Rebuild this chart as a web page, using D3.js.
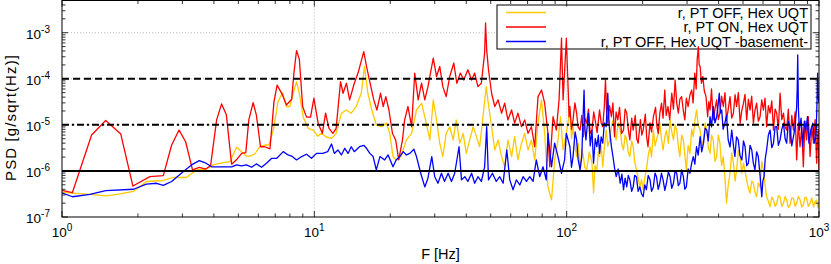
<!DOCTYPE html>
<html>
<head>
<meta charset="utf-8">
<script src="https://cdn.jsdelivr.net/npm/d3@7"></script>
<style>
body { margin: 0; background: #fff; }
svg { display: block; font-family: "Liberation Sans", Arial, sans-serif; }
</style>
</head>
<body>
<div id="vis"></div>
<script>
// PSD readings [F (Hz), PSD (g/sqrt(Hz))] for each run
var ptOffHex = [[1.0,3.45e-7],[1.10,3.3e-7],[1.29,3.1e-7],[1.50,2.87e-7],[1.70,3.17e-7],[1.92,3.6e-7],[2.16,5.9e-7],[2.52,6.2e-7],[2.76,7.2e-7],[3.11,7.2e-7],[3.41,1.05e-6],[3.74,1.1e-6],[3.98,1.35e-6],[4.35,1.52e-6],[4.63,1.6e-6],[4.92,3.25e-6],[5.15,2.62e-6],[5.38,2.1e-6],[5.55,2.1e-6],[5.81,2.33e-6],[6.08,3.35e-6],[6.36,3.65e-6],[6.6,3.65e-6],[6.88,7.7e-6],[7.18,3.2e-5],[7.48,5.0e-5],[7.75,2.5e-5],[8.0,2.5e-5],[8.25,4.85e-5],[8.5,8.65e-5],[8.72,4.85e-5],[9.04,1.47e-5],[9.45,8.4e-6],[9.9,7.7e-6],[10.3,5.7e-6],[10.67,6.55e-6],[11.15,5.45e-6],[11.7,5.1e-6],[12.2,6.55e-6],[12.8,1.79e-5],[13.4,2.1e-5],[14.0,1.79e-5],[14.65,2.5e-5],[15.35,4.85e-5],[15.8,1.85e-4],[16.3,4.85e-5],[16.9,2.1e-5],[17.6,9.9e-6],[18.5,9.1e-6],[19.3,1.09e-5],[19.9,6.55e-6],[20.5,2.05e-6],[21.1,1.73e-6],[22.1,2.05e-6],[23.15,4.7e-6],[24.3,6.55e-6],[25.4,2.1e-5],[26.6,2.95e-5],[27.4,1.5e-5],[28.7,4.7e-6],[29.6,3.48e-5],[30.5,1.28e-5],[31.4,4.0e-6],[32.3,2.05e-6],[33.3,6.55e-6],[34.4,9.1e-6],[35.5,4.7e-6],[36.5,1.28e-5],[37.7,4.0e-6],[38.9,6.55e-6],[40.0,2.4e-6],[41.3,4.7e-6],[42.6,9.1e-6],[43.9,5.55e-6],[45.2,3.35e-6],[46.6,1.5e-5],[48.0,6.75e-5],[48.7,3.48e-5],[50.4,9.1e-6],[51.9,2.85e-6],[53.5,4.7e-6],[55.2,2.05e-6],[56.8,1.23e-6],[58.5,4.7e-6],[60.5,2.05e-6],[62.2,5.55e-6],[64.1,1.73e-6],[66.2,4.0e-6],[68.2,6.55e-6],[70.3,2.85e-6],[72.5,4.7e-6],[74.7,1.73e-6],[77.0,1.09e-5],[79.5,3.48e-5],[81.8,6.55e-6],[84.3,4.5e-7],[87.1,2.35e-7],[89.6,1.73e-6],[92.4,4.7e-6],[94.5,1.5e-5],[96.8,2.85e-6],[99.7,6.55e-6],
  [103,2.1e-5],[104.5,5e-6],[106,9.1e-6],[108,3.5e-6],[109.5,2.05e-6],[111,4e-6],[113,1.05e-6],[114.8,3e-6],[116.5,2.05e-6],[118,1.2e-6],[120,1.05e-6],[123,2.6e-6],[126,1.47e-6],[127.8,3.35e-7],[129.5,1.3e-6],[131.7,1.05e-6],[133.5,2.6e-6],[135,2.05e-6],[137,3.5e-6],[139,1.23e-6],[141,3.2e-6],[143.4,7.7e-6],[145.5,3.5e-6],[148,4.7e-6],[150.5,9e-6],[152.6,1.28e-5],[155,6e-6],[157.2,4.7e-6],[160,1.1e-5],[163,7.7e-6],[165.5,3.8e-6],[168,2.85e-6],[170.5,6e-6],[173,4.7e-6],[175.5,2.5e-6],[178,2.05e-6],[181,4.5e-6],[183.5,3.35e-6],[186,1.6e-6],[189,1.05e-6],[192,7e-7],[195,4.5e-7],[198,6.5e-7],[201,3.9e-7],[204,7e-7],[207,1.05e-6],[210.5,2.2e-6],[214,3.35e-6],[217,2e-6],[220.6,7.7e-6],[224,3.5e-6],[227,4.7e-6],[230.5,6.5e-6],[234,1.09e-5],[237.5,5e-6],[241,2.85e-6],[245,5.5e-6],[248.5,7.7e-6],[253,4e-6],[257,1.28e-5],[261,7e-6],[265,4.7e-6],[269,1.0e-5],[273,7.7e-6],[277,3.5e-6],[281,2.05e-6],[285.5,6e-6],[290,4.7e-6],[294,2.2e-6],[298,1.05e-6],[303,3.6e-6],[308,2.4e-6],[313,8e-6],[317.5,5.55e-6],[322,1.2e-5],[327,2.1e-5],[332,1.0e-5],[338,7.7e-6],[343,3.6e-6],[348.5,4.7e-6],[354,1.1e-5],[359,7.7e-6],[364,3.3e-6],[370,2.4e-6],[375,6e-6],[381,4.7e-6],[387,1.6e-6],[393,2.05e-6],[399,6e-6],[405,4.0e-6],[411,1.3e-6],[417.5,2.05e-6],[424,7e-7],[430,2.0e-7],[437,5e-7],[444,8.9e-7],[451,2.5e-6],[458,1.47e-6],[465,6e-7],[471.5,1.05e-6],[479,2.8e-6],[487,2.05e-6],[494,9e-7],[502,1.47e-6],[509,1.0e-6],[517,6.4e-7],[525,4.2e-7],[533,3.3e-7],[541,6e-7],[549.5,5.4e-7],[557,3.5e-7],[566,2.75e-7],[575,5.5e-7],[584,4.5e-7],[593,1.6e-6],[602,1.05e-6],[611,5e-7],[620,2.75e-7],[630,2.2e-7],[640,1.67e-7],[650,2.7e-7],[660,2.35e-7],[670,1.7e-7],[680,2.0e-7],[690,2.9e-7],[701,2.75e-7],[712,1.7e-7],[723,2.0e-7],[734,2.8e-7],[744.5,2.35e-7],[756,1.6e-7],[768,1.83e-7],[780,2.6e-7],[792,2.55e-7],[804,1.7e-7],[815.6,2.0e-7],[828,2.8e-7],[841,2.35e-7],[854,1.65e-7],[867,1.83e-7],[880,2.7e-7],[893,2.55e-7],[907,1.7e-7],[922,2.0e-7],[936,2.6e-7],[951,1.67e-7],[965,2.2e-7],[979,2.35e-7],[990,1.6e-7],[1000,2.0e-7]];

var ptOnHex = [[1.0,3.8e-7],[1.10,3.4e-7],[1.31,6.0e-6],[1.49,1.24e-5],[1.71,6.3e-6],[1.91,4.7e-7],[2.23,7.5e-7],[2.52,7.9e-7],[2.72,3.65e-6],[2.91,7.7e-6],[3.09,4.3e-6],[3.29,1.05e-6],[3.50,1.2e-6],[3.71,1.1e-6],[3.88,1.3e-6],[4.10,1.28e-5],[4.29,2.85e-5],[4.48,1.65e-5],[4.70,1.4e-6],[4.94,1.8e-6],[5.15,2.4e-6],[5.35,2.5e-6],[5.50,1.28e-5],[5.72,3.05e-5],[5.89,1.65e-5],[6.12,3.35e-6],[6.36,3.35e-6],[6.67,3.0e-6],[6.92,3.2e-5],[7.12,7.3e-5],[7.48,4.46e-5],[7.75,2.7e-5],[8.13,3.6e-5],[8.30,1.33e-4],[8.50,4.1e-4],[8.72,2.67e-4],[8.99,2.5e-5],[9.31,1.47e-5],[9.66,1.47e-5],[9.96,3.8e-5],[10.35,1.09e-5],[10.76,6.55e-6],[11.08,1.79e-5],[11.43,8.4e-6],[11.85,6.55e-6],[12.2,8.4e-6],[12.7,8.65e-5],[13.0,4.85e-5],[13.4,8.0e-5],[13.8,3.48e-5],[14.4,8.0e-5],[14.9,1.33e-4],[15.2,2.0e-4],[15.7,3.9e-4],[16.1,1.85e-4],[16.7,7.3e-5],[17.2,3.48e-5],[17.7,2.1e-5],[18.3,4.85e-5],[18.75,2.5e-5],[19.2,4.1e-5],[19.75,2.1e-5],[20.4,6.55e-6],[21.0,4.7e-6],[21.6,1.73e-6],[22.35,4.7e-6],[22.8,1.28e-5],[23.5,2.5e-5],[24.3,9.1e-6],[25.0,1.33e-4],[25.8,3.48e-5],[26.6,8.0e-5],[27.4,3.48e-5],[28.2,6.75e-5],[29.6,2.8e-4],[30.5,1.12e-4],[31.4,1.85e-4],[32.3,6.75e-5],[33.3,4.1e-5],[34.4,1.12e-4],[35.7,2.2e-4],[36.7,8.0e-5],[37.9,1.33e-4],[39.1,9.4e-5],[40.6,1.57e-4],[42.0,9.4e-5],[43.2,1.33e-4],[44.5,6.75e-5],[45.9,8.0e-5],[47.3,3.6e-4],[47.7,1.63e-3],[48.2,4.24e-4],[49.0,1.57e-4],[50.4,4.85e-5],[51.9,2.5e-5],[53.5,3.48e-5],[55.2,1.79e-5],[56.8,2.95e-5],[58.5,1.28e-5],[60.5,2.1e-5],[62.2,1.09e-5],[64.1,1.79e-5],[66.2,9.1e-6],[68.2,1.28e-5],[70.3,6.55e-6],[72.5,9.1e-6],[74.7,3.35e-6],[77.0,4.1e-5],[79.5,5.7e-5],[81.8,2.95e-5],[84.3,6.55e-6],[85.7,1.23e-6],[88.3,1.5e-5],[91.0,7.7e-6],[93.3,3.48e-5],[95.4,7.6e-4],[96.8,3.48e-5],[99.7,7.6e-4],
  [101.5,4.85e-5],[102.2,1.5e-5],[103,2.5e-5],[104.5,8e-6],[106,1.28e-5],[107.8,3.0e-5],[109.5,1.79e-5],[111,9e-6],[113,7.7e-6],[114.8,1.6e-5],[116.5,5.55e-6],[118,1.4e-5],[120,1.09e-5],[122,2.2e-5],[124,6.5e-6],[126,7.7e-6],[128,1.9e-5],[129.7,1.28e-5],[132,6.8e-6],[135,2.1e-5],[137,1.1e-5],[139,9.1e-6],[141,2.5e-5],[142.5,9.4e-5],[144,2.0e-5],[145.5,1.09e-5],[148,2.6e-5],[150.4,1.5e-5],[152.5,3.0e-5],[154.8,5.55e-6],[157,1.9e-5],[159.5,1.28e-5],[162,2.4e-5],[165,6.5e-6],[168,7.7e-6],[170.5,2.2e-5],[173,1.79e-5],[175.5,8e-6],[178,4.7e-6],[181,1.4e-5],[183.5,7.7e-6],[187,1.6e-5],[189.5,5e-6],[192,4.0e-6],[196,1.3e-5],[198.5,6e-6],[201,7.7e-6],[205,1.7e-5],[207.5,5.5e-6],[210,3.35e-6],[214,1.1e-5],[217,7e-6],[220.6,1.5e-5],[225,2.4e-5],[228,9e-6],[230.7,6.55e-6],[234,1.8e-5],[237.7,2.95e-5],[241,1.4e-5],[244.8,5.7e-5],[248,1.6e-5],[252,2.5e-5],[256,1.3e-5],[261,4.85e-5],[265,2.2e-5],[269,9.4e-5],[273,3.0e-5],[277,1.79e-5],[281,3.6e-5],[285.5,4.1e-5],[290,2.0e-5],[294,1.28e-5],[298,3.8e-5],[303,2.5e-5],[308,4.5e-5],[313,5.7e-5],[317,3.0e-5],[322,1.33e-4],[326,6e-5],[329,2.58e-4],[332.6,5.0e-4],[335,2.0e-4],[338,1.85e-4],[342,8e-5],[346.5,1.12e-4],[351,5.5e-5],[356.6,4.1e-5],[362,1.5e-5],[366,3.2e-5],[370,2.1e-5],[375,6e-5],[381,1.28e-5],[387,2.2e-5],[393,3.48e-5],[399,1.3e-5],[405,1.79e-5],[411,4.2e-5],[417.5,2.5e-5],[424,5e-5],[430,1.28e-5],[437,2.2e-5],[444,4.1e-5],[451,1.4e-5],[458,1.79e-5],[465,4.5e-5],[471.5,2.5e-5],[479,5e-5],[487,1.09e-5],[494,2.0e-5],[502,2.95e-5],[509,4.6e-5],[517,1.28e-5],[525,3.6e-5],[533,2.1e-5],[541,4.2e-5],[549.5,1.09e-5],[557,2.0e-5],[566,2.95e-5],[575,1.2e-5],[584,1.5e-5],[593,3.5e-5],[602,2.1e-5],[611,3.8e-5],[620,9.1e-6],[630,2.6e-5],[640,1.79e-5],[650,3.3e-5],[660,7.7e-6],[670,2.2e-5],[680,1.79e-5],[690,8e-6],[701,4.85e-5],[712,1.3e-5],[723,1.79e-5],[734,9e-6],[744.5,7.7e-6],[756,2.2e-5],[768,4.0e-6],[780,1.6e-5],[792,7.7e-6],[804,1.9e-5],[815.6,1.73e-6],[828,1.1e-5],[841,3.35e-6],[854,9e-6],[867,1.23e-6],[880,1.2e-5],[893,4.7e-6],[907,1.5e-5],[922,2.05e-6],[936,9e-6],[951,4.0e-6],[965,1.3e-5],[979,1.47e-6],[986,5e-6],[993,7.7e-6],[997,2.5e-6],[1000,1.05e-6]];

var ptOffBasement = [[1.0,3.35e-7],[1.10,2.75e-7],[1.29,3.1e-7],[1.49,3.75e-7],[1.92,4.0e-7],[2.16,5.15e-7],[2.37,5.4e-7],[2.52,4.85e-7],[2.72,5.9e-7],[3.02,9.65e-7],[3.26,1.35e-6],[3.50,1.67e-6],[3.68,1.52e-6],[3.92,1.23e-6],[4.29,1.23e-6],[4.70,1.23e-6],[4.92,1.35e-6],[5.15,1.28e-6],[5.38,1.35e-6],[5.64,1.2e-6],[5.89,1.42e-6],[6.18,1.2e-6],[6.46,1.47e-6],[6.78,1.88e-6],[7.1,1.88e-6],[7.53,2.62e-6],[7.87,2.22e-6],[8.13,2.1e-6],[8.5,1.73e-6],[8.91,2.05e-6],[9.31,2.3e-6],[9.75,1.88e-6],[10.2,2.4e-6],[10.8,2.4e-6],[11.3,2.62e-6],[11.7,3.84e-6],[12.0,2.4e-6],[12.4,2.85e-6],[12.8,2.22e-6],[13.2,3.1e-6],[13.6,2.4e-6],[14.0,3.35e-6],[14.4,2.62e-6],[15.1,3.35e-6],[15.7,3.6e-6],[16.1,3.1e-6],[16.6,2.4e-6],[17.1,2.05e-6],[17.6,1.05e-6],[18.2,2.05e-6],[19.0,1.73e-6],[19.6,2.22e-6],[20.5,1.23e-6],[21.1,1.73e-6],[21.8,2.05e-6],[22.5,2.62e-6],[23.15,2.22e-6],[23.9,2.4e-6],[24.8,2.95e-6],[25.4,2.05e-6],[26.4,8.9e-7],[27.4,4.5e-7],[28.2,6.95e-7],[29.2,2.05e-6],[30.0,7.5e-7],[30.9,5.4e-7],[31.9,8.9e-7],[32.8,5.9e-7],[33.9,8.9e-7],[34.95,5.9e-7],[36.0,8.9e-7],[37.45,3.35e-6],[38.3,6.4e-7],[39.5,7.5e-7],[40.6,5.9e-7],[42.0,8.9e-7],[43.2,5.4e-7],[44.5,7.5e-7],[45.9,5.9e-7],[47.3,1.23e-6],[48.2,9.1e-6],[49.0,6.4e-7],[50.8,8.9e-7],[52.6,5.9e-7],[54.3,7.5e-7],[56.0,5.4e-7],[57.9,2.85e-6],[59.5,6.4e-7],[61.3,3.9e-7],[63.2,6.4e-7],[65.2,4.95e-7],[67.2,7.5e-7],[69.3,5.9e-7],[71.4,7.5e-7],[73.6,5.9e-7],[75.8,1.73e-6],[78.2,7.5e-7],[80.6,1.23e-6],[83.0,6.4e-7],[84.3,6.55e-6],[87.1,1.23e-6],[89.6,4.0e-6],[92.4,2.05e-6],[95.4,8.9e-7],[98.1,1.73e-6],[99.7,6.55e-6],
  [103,3.35e-6],[104.5,1.2e-6],[106,2.05e-6],[108,7e-6],[109.5,4.7e-6],[111,1.8e-6],[113,1.05e-6],[114.8,2.05e-6],[116,1.2e-5],[117.2,5.7e-5],[118.2,8e-6],[119.2,4.7e-6],[120.5,9e-6],[122,1.79e-5],[124,3.5e-6],[126,7.7e-6],[127.8,1.47e-6],[129.8,5e-6],[131.7,3.35e-6],[133.5,6e-6],[135,2.4e-6],[137,5.5e-6],[139,4.0e-6],[141,1.1e-5],[143.4,9.1e-6],[145.5,4.85e-5],[146.8,1.5e-5],[148,7.7e-6],[150.3,3.5e-6],[152.6,2.05e-6],[155,1.1e-6],[157.2,7.5e-7],[160,1.1e-6],[163,5.4e-7],[165.5,8.5e-7],[168,3.9e-7],[170.5,7e-7],[173,4.5e-7],[175.5,8e-7],[178,6.4e-7],[181,3.6e-7],[183.5,4.5e-7],[186,8e-7],[189,7.5e-7],[192,3.6e-7],[195,4.5e-7],[198,3.2e-7],[201,2.75e-7],[204,5e-7],[207,3.9e-7],[210.5,8e-7],[214,6.4e-7],[217,3.6e-7],[220.6,4.5e-7],[224,9e-7],[227,7.5e-7],[230.5,4e-7],[234,5.4e-7],[237.5,9e-7],[241,6.4e-7],[245,3.8e-7],[248.5,5.4e-7],[253,9.5e-7],[257,7.5e-7],[261,4.2e-7],[265,5.4e-7],[269,1.0e-6],[273,8.9e-7],[277,4.8e-7],[281,5.4e-7],[285.5,1.05e-6],[290,7.5e-7],[294,4e-7],[298,4.5e-7],[303,1.1e-6],[308,8.9e-7],[313,1.5e-6],[317.5,2.05e-6],[322,1.4e-6],[327,3.35e-6],[332,2.2e-6],[338,5.55e-6],[343,2.6e-6],[348.5,4.0e-6],[354,8.5e-6],[359,7.7e-6],[364,4.5e-6],[370,1.5e-5],[375,9e-6],[381,2.5e-5],[387,1.1e-5],[393,1.5e-5],[398,2.6e-5],[402.5,4.85e-5],[407,1.8e-5],[411.5,2.1e-5],[417,8e-6],[423.6,1.09e-5],[430,1.6e-5],[436.6,4.7e-6],[444,3.3e-6],[451,7.7e-6],[458,3.6e-6],[464.4,2.05e-6],[471,5.5e-6],[478.6,4.7e-6],[486,2.2e-6],[494.8,1.73e-6],[502,4.5e-6],[509.4,3.35e-6],[517,1.3e-6],[525,1.47e-6],[533,3.6e-6],[541.5,2.85e-6],[549,1.5e-6],[557.5,1.05e-6],[566,2.6e-6],[574.6,2.05e-6],[584,8e-7],[593.3,2.75e-7],[599,6e-7],[605.6,7.5e-7],[612,1.8e-6],[620,2.85e-6],[630,6e-6],[640,7.7e-6],[650,3.2e-6],[660,4.0e-6],[670,9e-6],[680,9.1e-6],[690,3.6e-6],[701,4.7e-6],[712,8e-6],[723,1.09e-5],[734,5e-6],[744.5,4.0e-6],[756,1.2e-5],[768,9.1e-6],[780,3.5e-6],[792,5.55e-6],[804,9e-6],[815.6,2.5e-5],[819.5,6e-5],[823.5,3.3e-4],[829,2.2e-5],[836,7.7e-6],[849,1.4e-5],[862,3.35e-6],[875,1.2e-5],[887,7.7e-6],[900,1.5e-5],[912.5,4.0e-6],[929,8e-6],[945,1.09e-5],[959,4e-6],[972.7,5.55e-6],[980,2e-5],[987.5,1.33e-4],[993,4e-5],[1000,2.95e-5]];

var seriesNames = ["r, PT OFF, Hex UQT", "r, PT ON, Hex UQT", "r, PT OFF, Hex UQT -basement-"];
var seriesColors = ["#ffc800", "#ff0000", "#0000ff"];
var refLevels = [1e-4, 1e-5, 1e-6];
var refDash = ["7,4", "7,3,2,3", null];
var xTickExp = [0, 1, 2, 3];
var yTickExp = [-7, -6, -5, -4, -3];

var w = 831;
var h = 264;
// note: "top" is taken by window.top, so the plot box gets its own names
var pLeft = 62, pRight = 819, pTop = 0.5, pBottom = 217;

var chart = d3.select("#vis")
              .append("svg")
              .attr("width", w)
              .attr("height", h)

const xScale = d3.scaleLog()
            .domain([1, 1000])
            .range([pLeft, pRight])
const yScale = d3.scaleLog()
            .domain([1e-7, 5e-3])
            .range([pBottom, pTop])

chart.append("clipPath").attr("id", "plotclip")
     .append("rect")
     .attr("x", pLeft).attr("y", pTop)
     .attr("width", pRight - pLeft).attr("height", pBottom - pTop)

// dotted grid on the decades
chart.selectAll(".gx")
     .data(xTickExp.slice(1, -1))
     .enter().append("line")
     .attr("x1", d => xScale(Math.pow(10, d)))
     .attr("x2", d => xScale(Math.pow(10, d)))
     .attr("y1", pTop).attr("y2", pBottom)
     .attr("stroke", "#aaa").attr("stroke-width", 0.8)
     .attr("stroke-dasharray", "1,2")
chart.selectAll(".gy")
     .data(yTickExp.slice(1))
     .enter().append("line")
     .attr("x1", pLeft).attr("x2", pRight)
     .attr("y1", d => yScale(Math.pow(10, d)))
     .attr("y2", d => yScale(Math.pow(10, d)))
     .attr("stroke", "#aaa").attr("stroke-width", 0.8)
     .attr("stroke-dasharray", "1,2")

// legend sits under the traces
var legend = chart.append("g")
legend.append("rect")
      .attr("x", 497).attr("y", 5)
      .attr("width", 314).attr("height", 44)
      .attr("fill", "#fff").attr("stroke", "#000").attr("stroke-width", 1)
seriesNames.forEach(function (name, i) {
  var yy = 12.5 + i * 14.5;
  legend.append("line")
        .attr("x1", 506).attr("x2", 546)
        .attr("y1", yy).attr("y2", yy)
        .attr("stroke", seriesColors[i]).attr("stroke-width", 1.3)
  legend.append("text")
        .attr("x", 808).attr("y", yy + 5)
        .attr("text-anchor", "end")
        .attr("font-size", "14.5px")
        .text(name)
})

const line = d3.line()
               .x(d => xScale(d[0]))
               .y(d => yScale(d[1]))

var traces = chart.append("g").attr("clip-path", "url(#plotclip)")
;[ptOffHex, ptOnHex, ptOffBasement].forEach(function (s, i) {
  traces.append("path")
        .datum(s)
        .attr("d", line)
        .attr("fill", "none")
        .attr("stroke", seriesColors[i])
        .attr("stroke-width", 1.3)
        .attr("stroke-linejoin", "round")
})

// reference levels
chart.selectAll(".ref")
     .data(refLevels)
     .enter().append("line")
     .attr("x1", pLeft).attr("x2", pRight)
     .attr("y1", d => yScale(d)).attr("y2", d => yScale(d))
     .attr("stroke", "#000").attr("stroke-width", 2)
     .attr("stroke-dasharray", (d, i) => refDash[i])

// frame + inward ticks on all four sides
chart.append("rect")
     .attr("x", pLeft).attr("y", pTop)
     .attr("width", pRight - pLeft).attr("height", pBottom - pTop)
     .attr("fill", "none").attr("stroke", "#000").attr("stroke-width", 1)

var isMajor = v => Math.abs(Math.log10(v) - Math.round(Math.log10(v))) < 1e-9
var xt = xScale.ticks()
var yt = yScale.ticks()
chart.selectAll(".xtb").data(xt).enter().append("line")
     .attr("x1", d => xScale(d)).attr("x2", d => xScale(d))
     .attr("y1", pBottom).attr("y2", d => pBottom - (isMajor(d) ? 6 : 3.5))
     .attr("stroke", "#000").attr("stroke-width", 0.8)
chart.selectAll(".xtt").data(xt).enter().append("line")
     .attr("x1", d => xScale(d)).attr("x2", d => xScale(d))
     .attr("y1", pTop).attr("y2", d => pTop + (isMajor(d) ? 6 : 3.5))
     .attr("stroke", "#000").attr("stroke-width", 0.8)
chart.selectAll(".ytl").data(yt).enter().append("line")
     .attr("y1", d => yScale(d)).attr("y2", d => yScale(d))
     .attr("x1", pLeft).attr("x2", d => pLeft + (isMajor(d) ? 6 : 3.5))
     .attr("stroke", "#000").attr("stroke-width", 0.8)
chart.selectAll(".ytr").data(yt).enter().append("line")
     .attr("y1", d => yScale(d)).attr("y2", d => yScale(d))
     .attr("x1", pRight).attr("x2", d => pRight - (isMajor(d) ? 6 : 3.5))
     .attr("stroke", "#000").attr("stroke-width", 0.8)

// tick labels as 10 with superscript exponent
var xl = chart.selectAll(".xl").data(xTickExp).enter().append("text")
     .attr("x", d => xScale(Math.pow(10, d)))
     .attr("y", 237)
     .attr("text-anchor", "middle")
     .attr("font-size", "13.5px")
xl.append("tspan").text("10")
xl.append("tspan").attr("dy", -6).attr("font-size", "10px").text(d => d)

var yl = chart.selectAll(".yl").data(yTickExp).enter().append("text")
     .attr("x", 50)
     .attr("y", d => yScale(Math.pow(10, d)) + 6)
     .attr("text-anchor", "end")
     .attr("font-size", "13.5px")
yl.append("tspan").text("10")
yl.append("tspan").attr("dy", -6).attr("font-size", "10px").text(d => d)

chart.append("text")
     .attr("x", (pLeft + pRight) / 2).attr("y", 259)
     .attr("text-anchor", "middle")
     .attr("font-size", "14.5px")
     .text("F [Hz]")
chart.append("text")
     .attr("transform", "translate(16,118) rotate(-90)")
     .attr("text-anchor", "middle")
     .attr("font-size", "15px")
     .attr("textLength", 126)
     .attr("lengthAdjust", "spacing")
     .text("PSD [g/sqrt(Hz)]")
</script>
</body>
</html>
